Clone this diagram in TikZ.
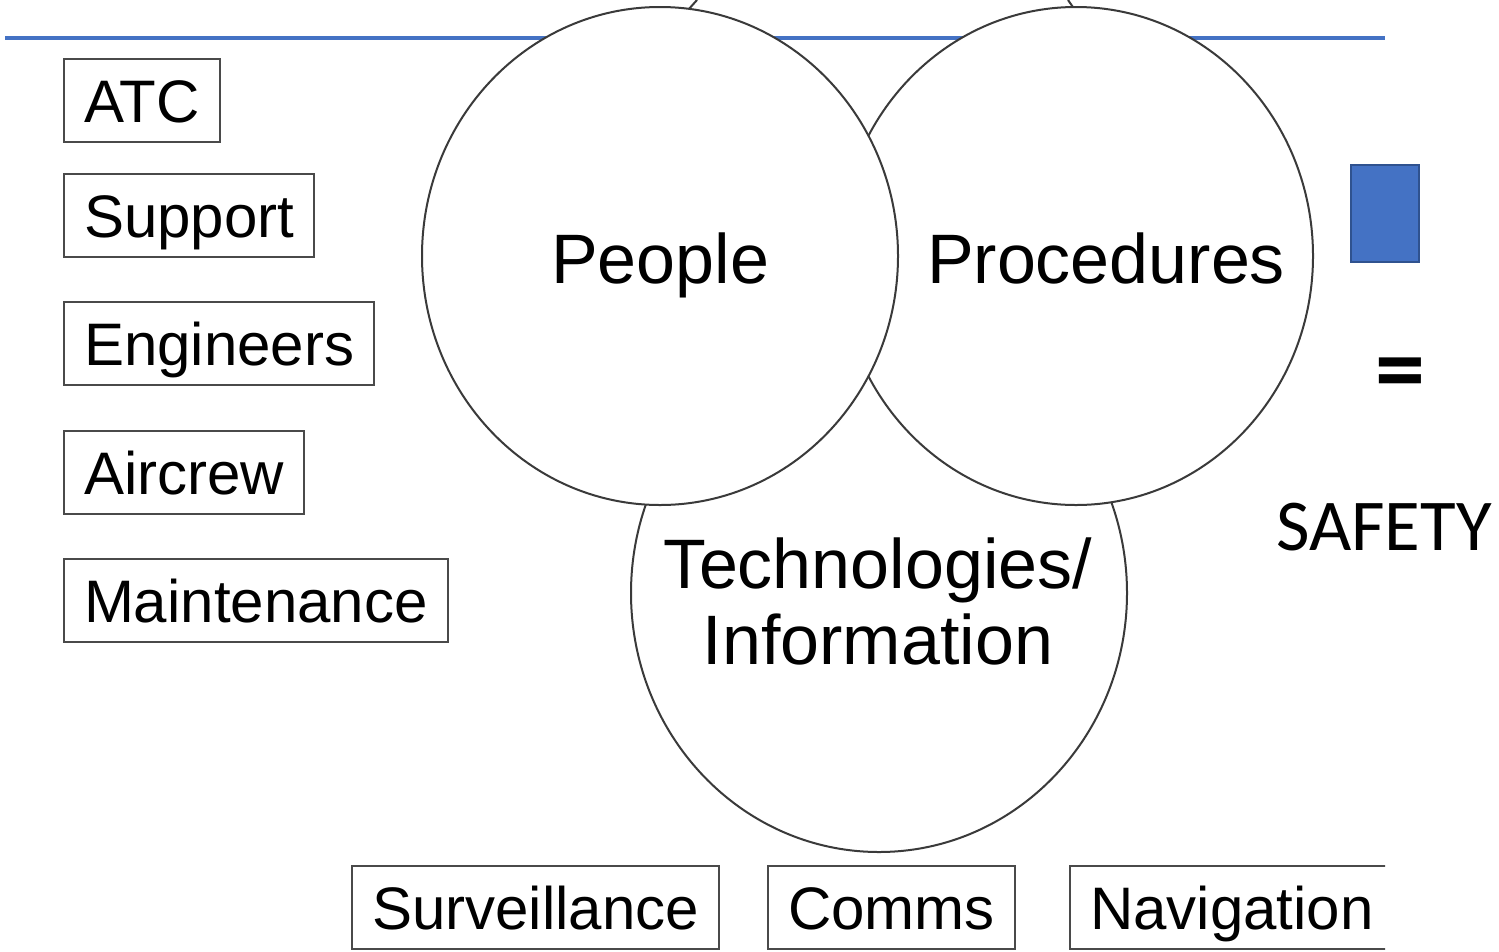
\documentclass[tikz,border=0pt]{standalone}
\usepackage{fontspec}
\setmainfont{Liberation Sans}
\newfontfamily\calib{Carlito}
\definecolor{lineblue}{HTML}{4472C4}
\definecolor{rimblue}{HTML}{2F528F}
\definecolor{boxgray}{HTML}{4A4A4A}
\definecolor{ringgray}{HTML}{3A3A3A}
\begin{document}
\begin{tikzpicture}[x=1pt,y=-1pt,
  lbox/.style={draw=boxgray, line width=2pt, anchor=north west, minimum height=83pt,
    inner xsep=20pt, text height=43pt, text depth=0pt, font=\fontsize{60}{72}\selectfont},
  ring/.style={draw=ringgray, line width=2pt, fill=white},
  ctext/.style={anchor=base, inner sep=0pt, font=\fontsize{70}{76}\selectfont, align=center},
  bluesq/.style={fill=lineblue, draw=rimblue, line width=2.5pt, minimum width=68pt, minimum height=97pt, inner sep=0pt}
  ]
\useasboundingbox (0,0) rectangle (1499,951);
\fill[white] (0,0) rectangle (1499,951);
% top rule
\draw[lineblue, line width=3.5pt] (5,38) -- (1385,38);
% small strokes of shapes above the picture
\coordinate (s1a) at (697,0); \coordinate (s1b) at (688,10);
\coordinate (s2a) at (1068,0); \coordinate (s2b) at (1075,10);
\draw[ringgray, line width=2pt] (s1a) -- (s1b);
\draw[ringgray, line width=2pt] (s2a) -- (s2b);
% circles
\draw[ring] (879,593) ellipse [x radius=248pt, y radius=259pt];
\draw[ring] (1076,256) ellipse [x radius=237pt, y radius=249pt];
\draw[ring] (660,256) ellipse [x radius=238pt, y radius=249pt];
% circle labels
\node[ctext] (people) at (660,283) {People};
\node[ctext] (procedures) at (1106,283) {Procedures};
\node[ctext] (tech) at (878,664) {Technologies/\\Information};
% left boxes
\node[lbox] (atc) at (63,58) {ATC};
\node[lbox] (support) at (63,173) {Support};
\node[lbox] (engineers) at (63,301) {Engineers};
\node[lbox] (aircrew) at (63,430) {Aircrew};
\node[lbox] (maint) at (63,558) {Maintenance};
% bottom boxes
\node[lbox] (surv) at (351,865) {Surveillance};
\node[lbox] (comms) at (767,865) {Comms};
\begin{scope}
\clip (0,0) rectangle (1385,951);
\node[lbox] (nav) at (1069,865) {Navigation};
\end{scope}
% right side
\node[bluesq] (sq) at (1385,213.5) {};
\node[anchor=center, inner sep=0pt] (eq) at (1400,380) {\calib\bfseries\fontsize{100}{110}\selectfont =};
\node[anchor=base west, inner sep=0pt] (safety) at (1276,550) {\calib\fontsize{73}{80}\selectfont SAFETY};
\end{tikzpicture}
\end{document}
